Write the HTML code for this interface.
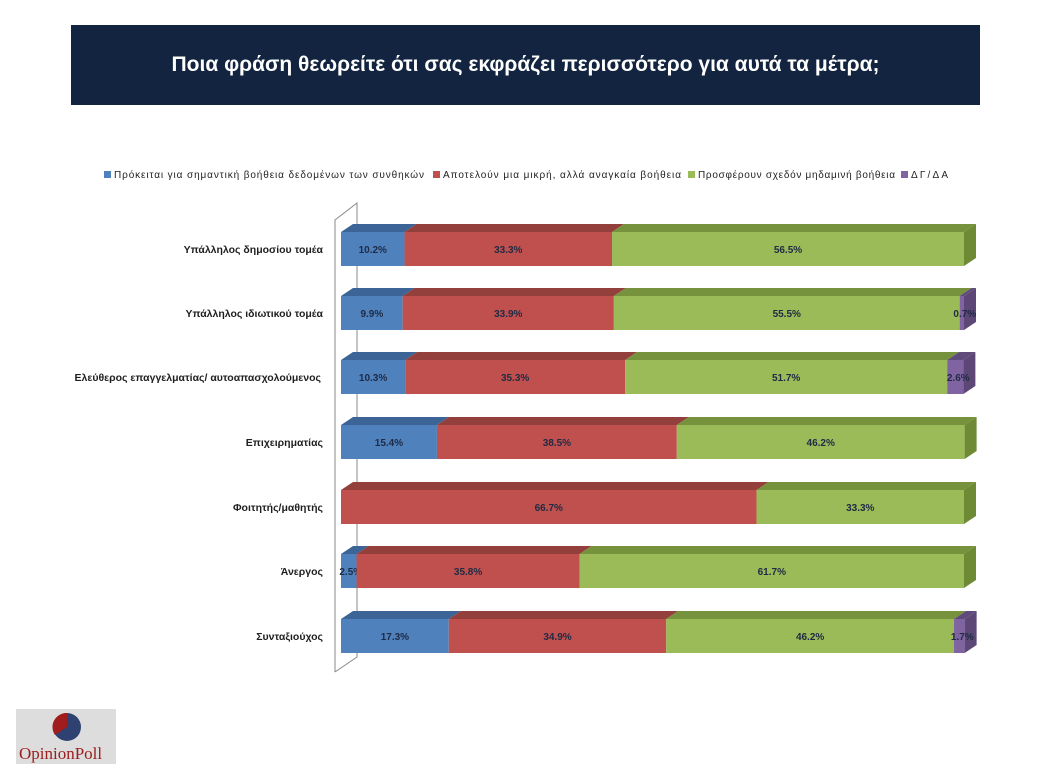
<!DOCTYPE html>
<html><head><meta charset="utf-8"><style>
html,body{margin:0;padding:0;background:#fff;}
body{width:1048px;height:770px;position:relative;overflow:hidden;font-family:"Liberation Sans",sans-serif;}
.title{position:absolute;left:71px;top:25px;width:909px;height:80px;background:#12243f;color:#fff;font-size:21px;font-weight:bold;text-align:center;line-height:80px;}
</style></head><body>
<div class="title">Ποια φράση θεωρείτε ότι σας εκφράζει περισσότερο για αυτά τα μέτρα;</div>
<svg width="1048" height="770" style="position:absolute;left:0;top:0" font-family="Liberation Sans, sans-serif">
<g font-size="10" fill="#222">
<rect x="104" y="171" width="7" height="7" fill="#4f81bd"/><text x="114" y="178" textLength="310" lengthAdjust="spacing">Πρόκειται για σημαντική βοήθεια δεδομένων των συνθηκών</text>
<rect x="433" y="171" width="7" height="7" fill="#c0504d"/><text x="443" y="178" textLength="238" lengthAdjust="spacing">Αποτελούν μια μικρή, αλλά αναγκαία βοήθεια</text>
<rect x="688" y="171" width="7" height="7" fill="#9bbb59"/><text x="698" y="178" textLength="197" lengthAdjust="spacing">Προσφέρουν σχεδόν μηδαμινή βοήθεια</text>
<rect x="901" y="171" width="7" height="7" fill="#8064a2"/><text x="911" y="178" textLength="37" lengthAdjust="spacing">ΔΓ/ΔΑ</text>
</g>
<g stroke="#888" stroke-width="1" fill="none">
<polyline points="335,672 335,220 357,203 357,657 335,672"/>
</g>
<g id="bars"></g>
<g font-size="10.5" font-weight="bold" fill="#1f1f1f" text-anchor="end">
<text x="323" y="253">Υπάλληλος δημοσίου  τομέα</text>
<text x="323" y="317">Υπάλληλος ιδιωτικού  τομέα</text>
<text x="321" y="381">Ελεύθερος επαγγελματίας/ αυτοαπασχολούμενος</text>
<text x="323" y="446">Επιχειρηματίας</text>
<text x="323" y="511">Φοιτητής/μαθητής</text>
<text x="323" y="575">Άνεργος</text>
<text x="323" y="640">Συνταξιούχος</text>
</g>
</svg>
<div style="position:absolute;left:16px;top:709px;width:100px;height:55px;background:#ddd;"></div>
<svg width="120" height="70" style="position:absolute;left:0;top:700px">
<circle cx="67" cy="27" r="14" fill="#2e4170"/>
<path d="M67,27 L67,13 A14,14 0 0,0 55,35 Z" fill="#a11c1c"/>
<text x="19" y="59" font-size="17" fill="#9b1c1c" font-family="Liberation Serif, serif">OpinionPoll</text>
</svg>
<script>
const rows=[[232,[10.2,33.3,56.5]],[296,[9.9,33.9,55.5,0.7]],[360,[10.3,35.3,51.7,2.6]],[425,[15.4,38.5,46.2]],[490,[0,66.7,33.3]],[554,[2.5,35.8,61.7]],[619,[17.3,34.9,46.2,1.7]]];
const F=['#4f81bd','#c0504d','#9bbb59','#8064a2'],T=['#3c6496','#93403d','#76923c','#604a7b'],S=['#385d8a','#8c3836','#6f8a35','#5c4776'];
let h='';const H=34,dx=12,dy=8;
rows.forEach(([y,v])=>{let x=341;let last=-1;v.forEach((p,i)=>{if(p>0)last=i;});
v.forEach((p,i)=>{if(p<=0)return;const w=p*6.23;const x2=x+w;
h+=`<polygon points="${x},${y} ${x+dx},${y-dy} ${x2+dx},${y-dy} ${x2},${y}" fill="${T[i]}"/>`;
h+=`<rect x="${x}" y="${y}" width="${w}" height="${H}" fill="${F[i]}"/>`;
if(i==last)h+=`<polygon points="${x2},${y} ${x2+dx},${y-dy} ${x2+dx},${y+H-dy} ${x2},${y+H}" fill="${S[i]}"/>`;
const cx=w<20?x+w/2+(i==3?3:2):x+w/2;
h+=`<text x="${cx}" y="${y+21}" font-size="10" font-weight="bold" fill="#1f2a44" text-anchor="middle">${p.toFixed(1)}%</text>`;
x=x2;});});
document.getElementById('bars').innerHTML=h;
</script>
</body></html>
